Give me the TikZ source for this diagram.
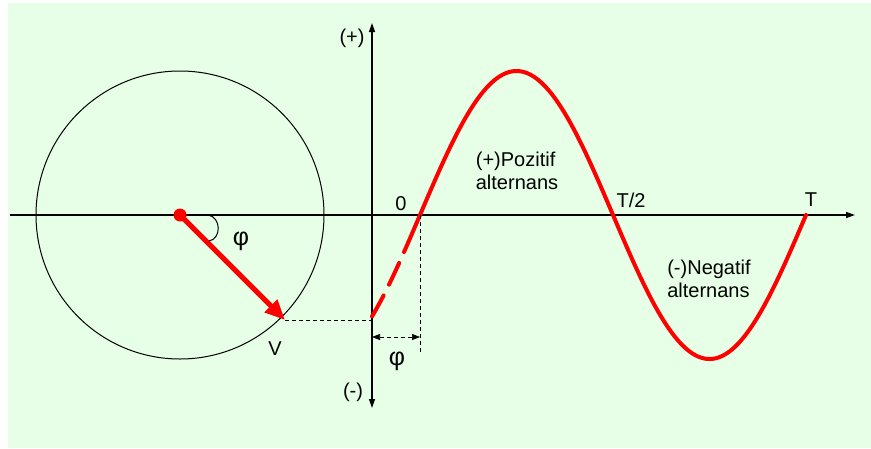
\documentclass[tikz,border=0pt]{standalone}
\usepackage{fontspec}
\setmainfont{Liberation Sans}
\usetikzlibrary{arrows.meta}
\definecolor{bgreen}{RGB}{230,255,230}
\definecolor{wred}{RGB}{255,0,0}
\begin{document}
\begin{tikzpicture}[x=1pt,y=-1pt,
  lbl/.style={font=\fontsize{20}{23}\selectfont, inner sep=0pt},
  philbl/.style={font=\fontsize{25}{28}\selectfont, inner sep=0pt},
  axis/.style={line width=1.3pt, -{Triangle[length=9pt,width=6pt]}},
  thin dash/.style={line width=0.7pt, dash pattern=on 4pt off 3pt},
  wave/.style={wred, line width=4pt}]
\useasboundingbox (0,0) rectangle (871,448);
\fill[bgreen] (8,3) rectangle (871,448);
% circle
\node[draw, circle, line width=1pt, minimum size=288pt, inner sep=0pt] (circ) at (180,215) {};
% axes
\coordinate (xstart) at (10,215);
\coordinate (xend) at (855,215);
\coordinate (ybot) at (372,408);
\coordinate (ytop) at (372,23);
\coordinate (ymid) at (372,360);
\draw[axis] (xstart) -- (xend);
\draw[axis] (ymid) -- (ytop);
\draw[axis] (ymid) -- (ybot);
% phasor
\coordinate (O) at (180,215);
\coordinate (V) at (285,320);
\coordinate (Vy) at (372,320);
\draw[thin dash] (V) -- (Vy);
\draw[wred, line width=5pt, -{Triangle[length=20pt,width=17pt]}] (O) -- (V);
\fill[wred] (O) circle (6.5pt);
\coordinate (a1) at (208,215);
\coordinate (a2) at (209,241);
\draw[line width=1pt] (a1) .. controls (221.5,217) and (221.5,239) .. (a2);
% sine wave
\draw[wave, dash pattern=on 24pt off 12pt, line cap=round] plot[domain=372:408, samples=40] (\x, {215-144*sin((\x-420)/386*360)});
\draw[wave, line cap=round] plot[domain=408:806, samples=200] (\x, {215-144*sin((\x-420)/386*360)});
% phi dimension
\coordinate (z0) at (420,215);
\coordinate (z1) at (420,352);
\draw[thin dash] (z0) -- (z1);
\coordinate (d0) at (372,337);
\coordinate (d1) at (420,337);
\draw[thin dash, {Triangle[length=8pt,width=6pt]}-{Triangle[length=8pt,width=6pt]}] (d0) -- (d1);
% labels
\node[lbl] (lp) at (352,38) {(+)};
\node[lbl] (lm) at (353,392) {(-)};
\node[lbl] (l0) at (401,204) {0};
\node[lbl] (lt2) at (631,200) {T/2};
\node[lbl] (lt) at (811,200) {T};
\node[lbl, align=left] (pos) at (517,171) {(+)Pozitif\\alternans};
\node[lbl, align=left] (neg) at (709,279) {(-)Negatif\\alternans};
\node[lbl] (lv) at (275,349) {V};
\node[philbl] (phi1) at (241,241) {φ};
\node[philbl] (phi2) at (397,361) {φ};
\end{tikzpicture}
\end{document}
